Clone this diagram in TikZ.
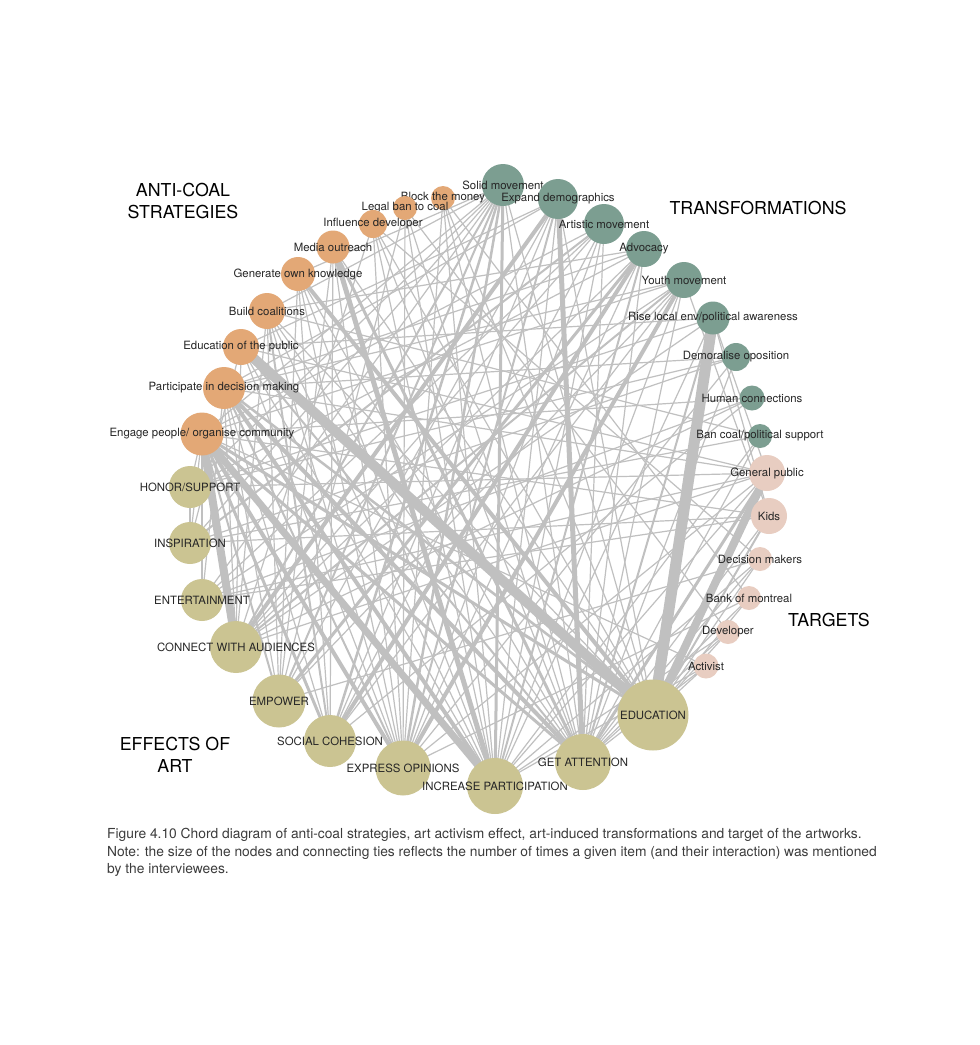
\documentclass[tikz,border=0pt]{standalone}
\usepackage{fontspec}
\setmainfont{TeX Gyre Heros}
\newfontfamily\capfont{TeX Gyre Heros}
\usetikzlibrary{backgrounds}

\definecolor{coalorange}{RGB}{227,168,118}
\definecolor{transgreen}{RGB}{124,158,145}
\definecolor{artolive}{RGB}{203,196,146}
\definecolor{targetpink}{RGB}{232,205,193}
\definecolor{tiegray}{RGB}{192,192,192}
\definecolor{captiongray}{RGB}{60,60,60}

\tikzset{
  blob/.style={circle, inner sep=0pt, minimum size=#1pt},
  strat/.style={blob=#1, fill=coalorange},
  effect/.style={blob=#1, fill=artolive},
  transf/.style={blob=#1, fill=transgreen},
  target/.style={blob=#1, fill=targetpink},
  lab/.style={font=\fontsize{11.4}{12}\selectfont, text=black!85, inner sep=0pt},
  tie/.style={draw=tiegray, line width=#1pt},
  grouptitle/.style={font=\fontsize{17.8}{22}\selectfont, align=center, inner sep=0pt},
}

\begin{document}
\begin{tikzpicture}[x=1pt,y=-1pt]
    \useasboundingbox (0,0) rectangle (980,1045);

    % anti-coal strategies
    \node[strat=24, label={[lab]center:Block the money}] (block) at (443,198) {};
    \node[strat=24, label={[lab]center:Legal ban to coal}] (legal) at (405,208) {};
    \node[strat=28, label={[lab]center:Influence developer}] (influ) at (373,224) {};
    \node[strat=33, label={[lab]center:Media outreach}] (media) at (333,247) {};
    \node[strat=34, label={[lab]center:Generate own knowledge}] (gener) at (298,274) {};
    \node[strat=36, label={[lab]center:Build coalitions}] (build) at (267,311) {};
    \node[strat=36, label={[lab]center:Education of the public}] (edupub) at (241,347) {};
    \node[strat=42, label={[lab]center:Participate in decision making}] (partic) at (224,388) {};
    \node[strat=43, label={[lab]center:Engage people/ organise community}] (engage) at (202,434) {};

    % effects of art
    \node[effect=42, label={[lab]center:HONOR/SUPPORT}] (honor) at (190,487) {};
    \node[effect=42, label={[lab]center:INSPIRATION}] (inspir) at (190,543) {};
    \node[effect=42, label={[lab]center:ENTERTAINMENT}] (entert) at (202,600) {};
    \node[effect=52, label={[lab]center:CONNECT WITH AUDIENCES}] (connect) at (236,647) {};
    \node[effect=53, label={[lab]center:EMPOWER}] (empower) at (279,701) {};
    \node[effect=52, label={[lab]center:SOCIAL COHESION}] (social) at (330,741) {};
    \node[effect=55, label={[lab]center:EXPRESS OPINIONS}] (express) at (403,768) {};
    \node[effect=56, label={[lab]center:INCREASE PARTICIPATION}] (incr) at (495,786) {};
    \node[effect=56, label={[lab]center:GET ATTENTION}] (getatt) at (583,762) {};
    \node[effect=71, label={[lab]center:EDUCATION}] (educ) at (653,715) {};

    % transformations
    \node[transf=42, label={[lab]center:Solid movement}] (solid) at (503,185) {};
    \node[transf=40, label={[lab]center:Expand demographics}] (expand) at (558,199) {};
    \node[transf=40, label={[lab]center:Artistic movement}] (artistic) at (604,224) {};
    \node[transf=36, label={[lab]center:Advocacy}] (advoc) at (644,249) {};
    \node[transf=36, label={[lab]center:Youth movement}] (youth) at (684,280) {};
    \node[transf=33, label={[lab]center:Rise local env/political awareness}] (rise) at (713,318) {};
    \node[transf=28, label={[lab]center:Demoralise oposition}] (demor) at (736,357) {};
    \node[transf=25, label={[lab]center:Human connections}] (human) at (752,398) {};
    \node[transf=24, label={[lab]center:Ban coal/political support}] (bancoal) at (760,436) {};

    % targets
    \node[target=36, label={[lab]center:General public}] (genpub) at (767,473) {};
    \node[target=36, label={[lab]center:Kids}] (kids) at (769,516) {};
    \node[target=24, label={[lab]center:Decision makers}] (decis) at (760,559) {};
    \node[target=24, label={[lab]center:Bank of montreal}] (bank) at (749,598) {};
    \node[target=24, label={[lab]center:Developer}] (devel) at (728,632) {};
    \node[target=25, label={[lab]center:Activist}] (activ) at (706,666) {};

    % group titles
    \node[grouptitle] (titlecoal) at (183,201) {ANTI-COAL\\STRATEGIES};
    \node[grouptitle] (titletrans) at (758,208) {TRANSFORMATIONS};
    \node[grouptitle] (titletarg) at (829,620) {TARGETS};
    \node[grouptitle] (titleart) at (175,755) {EFFECTS OF\\ART};

    \node[anchor=north west, align=left, inner sep=0pt, text=captiongray,
          font=\capfont\fontsize{13.8}{17.5}\selectfont] (caption) at (107,828)
      {Figure 4.10 Chord diagram of anti-coal strategies, art activism effect, art-induced transformations and target of the artworks.\\
       Note: the size of the nodes and connecting ties reflects the number of times a given item (and their interaction) was mentioned\\
       by the interviewees.};

    % ties
    \begin{scope}[on background layer]
    \fill[white] (0,0) rectangle (980,1045);
    \foreach \a/\b/\w in {engage/connect/8, engage/incr/7, engage/express/4, engage/social/3,
        engage/empower/2, engage/getatt/3, engage/educ/3, engage/entert/1.2, engage/inspir/1.2,
        engage/honor/1.2, partic/incr/4, partic/getatt/4, partic/educ/2.5, partic/express/2,
        partic/social/1.2, partic/empower/1.2, partic/connect/1.2, partic/entert/1.2,
        edupub/educ/10, edupub/getatt/2, edupub/incr/1.2, edupub/express/1.2, edupub/connect/1.2,
        edupub/inspir/1.2, build/social/2, build/connect/1.2, build/empower/1.2, build/incr/1.2,
        build/express/1.2, build/getatt/1.2, build/educ/1.2, gener/educ/4, gener/getatt/1.2,
        gener/express/1.2, gener/social/1.2, gener/empower/1.2, gener/incr/1.2, media/incr/5,
        media/getatt/3, media/express/1.2, media/empower/1.2, media/educ/1.2, media/social/1.2,
        influ/incr/1.2, influ/express/1.2, influ/getatt/1.2, influ/connect/1.2, influ/educ/1.2,
        legal/incr/1.2, legal/express/1.2, legal/empower/1.2, legal/getatt/1.2,
        block/getatt/1.2, block/incr/1.2, block/express/1.2, block/educ/1.2}
        \draw[tie=\w] (\a.center) -- (\b.center);
    \foreach \a/\b/\w in {solid/incr/3, solid/express/2.5, solid/social/2.5, solid/empower/2,
        solid/connect/2, solid/honor/1.2, solid/inspir/1.2, solid/entert/1.2, solid/getatt/1.2,
        solid/educ/1.2, expand/getatt/5, expand/connect/4, expand/express/2, expand/empower/1.2,
        expand/social/1.2, expand/incr/1.2, expand/educ/1.2, artistic/inspir/2,
        artistic/express/1.2, artistic/incr/1.2, artistic/connect/1.2, artistic/entert/1.2,
        artistic/getatt/1.2, artistic/social/1.2, advoc/social/4, advoc/empower/3, advoc/incr/2,
        advoc/express/1.2, advoc/honor/1.2, advoc/connect/1.2, advoc/getatt/1.2,
        youth/express/4, youth/connect/2, youth/incr/1.2, youth/social/1.2, youth/getatt/1.2,
        youth/empower/1.2, youth/entert/1.2, rise/educ/11, rise/getatt/2, rise/connect/1.2,
        rise/incr/1.2, rise/honor/1.2, demor/honor/1.2, demor/inspir/1.2, demor/express/1.2,
        demor/getatt/1.2, human/social/1.2, human/connect/1.2, human/entert/1.2,
        bancoal/incr/1.2, bancoal/getatt/1.2, bancoal/inspir/1.2}
        \draw[tie=\w] (\a.center) -- (\b.center);
    \foreach \a/\b/\w in {genpub/educ/8, genpub/getatt/3, genpub/connect/1.2, genpub/entert/1.2,
        genpub/honor/1.2, genpub/express/1.2, genpub/incr/1.2, kids/educ/2, kids/inspir/1.2,
        kids/entert/1.2, kids/getatt/1.2, decis/incr/1.2, decis/getatt/1.2, decis/educ/1.2,
        decis/empower/1.2, bank/getatt/1.2, bank/educ/1.2, bank/express/1.2, devel/educ/1.2,
        devel/incr/1.2, devel/getatt/1.2, activ/educ/1.2, activ/getatt/1.2, activ/incr/1.2}
        \draw[tie=\w] (\a.center) -- (\b.center);
    \foreach \a/\b in {solid/gener, solid/build, solid/engage, expand/edupub, expand/partic,
        artistic/engage, advoc/partic, advoc/build, youth/engage, youth/partic, rise/edupub,
        demor/partic, human/engage, bancoal/build, genpub/edupub, genpub/partic, kids/engage,
        decis/influ, bank/block, devel/legal, activ/engage, rise/genpub, rise/kids, youth/kids,
        honor/inspir}
        \draw[tie=1.2] (\a.center) -- (\b.center);
    \end{scope}
\end{tikzpicture}
\end{document}
